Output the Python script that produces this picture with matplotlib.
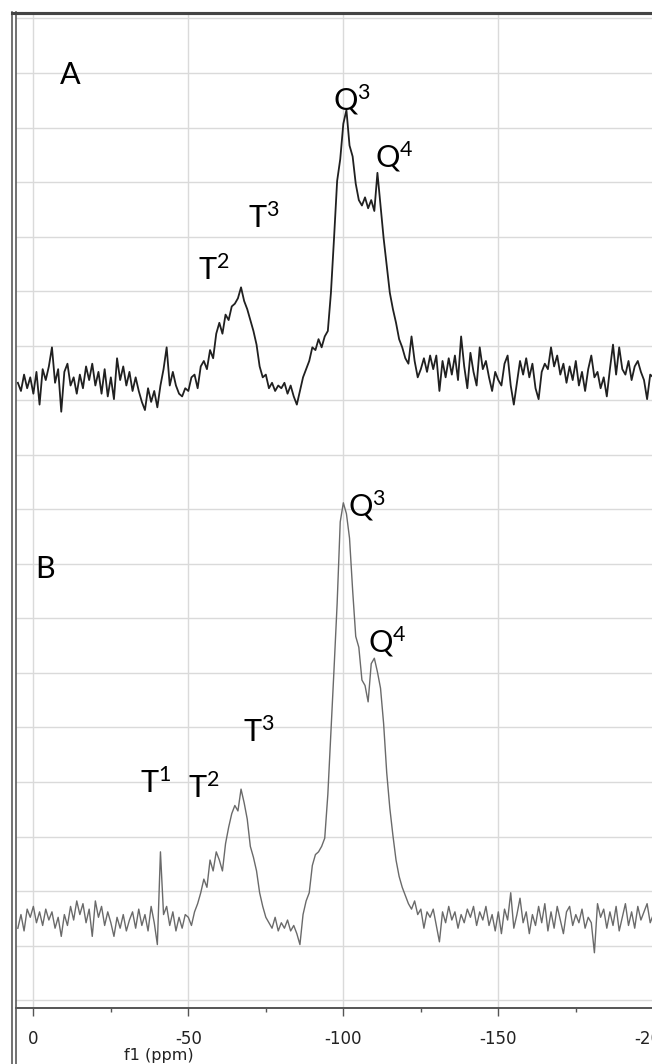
import matplotlib.pyplot as plt
import numpy as np
from matplotlib.lines import Line2D


# chemical shift axis, 1 ppm steps from +5 down to -200
shift_ppm = np.arange(5, -201, -1)

# spectrum A intensity (one grid step = 10), rows of 10 points
spectrum_a = [
    -0.5, -2.0, 1.0, -1.5, 0.5, -2.5, 1.5, -4.5, 2.0, 0.0,
    2.5, 6.0, -0.5, 2.0, -5.8, 1.5, 3.0, -1.0, 0.5, -2.5,
    1.0, -1.5, 2.5, 0.0, 3.0, -1.0, 1.5, -2.5, 2.0, -3.0,
    0.5, -3.5, 4.0, 0.0, 2.5, -1.0, 1.5, -2.0, 0.5, -2.0,
    -4.0, -5.5, -1.5, -4.0, -2.0, -5.0, -1.0, 2.0, 6.0, -1.0,
    1.5, -1.0, -2.5, -3.0, -1.5, -2.0, 0.5, 1.0, -1.5, 2.5,
    3.5, 2.0, 5.5, 4.0, 8.5, 10.5, 8.5, 12.0, 11.0, 13.5,
    14.0, 15.0, 17.0, 14.5, 13.0, 11.0, 9.0, 6.5, 2.5, 0.5,
    1.0, -1.5, -0.5, -2.0, -1.0, -1.5, -0.5, -2.5, -1.0, -3.0,
    -4.5, -2.0, 0.5, 2.0, 3.5, 6.0, 5.5, 7.5, 6.0, 8.0,
    9.0, 16.0, 26.0, 36.5, 40.5, 47.0, 49.5, 43.0, 41.0, 36.0,
    33.0, 32.0, 33.5, 31.5, 33.0, 31.0, 38.0, 32.0, 26.0, 21.0,
    16.0, 13.0, 10.5, 7.5, 6.0, 4.0, 3.0, 8.0, 3.5, 0.5,
    2.0, 4.0, 1.5, 4.5, 2.0, 4.5, -2.0, 3.5, 0.5, 4.0,
    1.0, 4.5, 0.0, 8.0, 2.5, -1.5, 5.0, 1.5, -1.0, 6.0,
    2.0, 3.5, 0.5, -2.0, 1.5, 0.0, -1.0, 3.0, 4.5, -1.0,
    -4.5, -0.5, 3.5, 1.0, 4.0, 0.5, 3.0, -1.5, -3.5, 1.5,
    3.0, 2.0, 6.0, 2.5, 4.5, 1.0, 3.0, -0.5, 2.5, 0.0,
    3.5, -1.0, 1.5, -2.0, 2.0, 4.5, 0.5, 1.5, -1.5, 0.5,
    -3.0, 2.0, 6.5, 1.0, 6.0, 2.0, 1.0, 3.5, 0.0, 2.5,
    3.5, 1.5, 0.0, -3.5, 1.0, 0.5,
]

# spectrum B intensity, same axis
spectrum_b = [
    -1.5, 1.0, -2.0, 2.0, 0.5, 2.5, -0.5, 1.5, -1.0, 2.0,
    0.0, 1.5, -1.5, 0.5, -3.0, 1.0, -1.0, 2.5, 0.0, 3.5,
    1.0, 3.0, -0.5, 2.0, -3.0, 3.5, 0.5, 2.5, -1.0, 1.5,
    -0.5, -3.0, 0.5, -1.5, 1.0, -2.0, 0.0, 1.5, -1.5, 2.0,
    -1.0, 1.0, -2.0, 2.5, -0.5, -4.5, 12.5, 1.0, 2.5, -1.0,
    1.5, -2.0, 0.5, -1.5, 1.0, 0.5, -1.0, 1.5, 3.0, 5.0,
    7.5, 6.0, 11.0, 9.0, 12.5, 11.0, 9.0, 14.0, 17.0, 19.5,
    21.0, 20.0, 24.0, 21.5, 18.5, 13.5, 11.5, 9.0, 5.0, 2.5,
    0.5, -0.5, -1.5, 0.5, -2.0, -0.5, -1.5, 0.0, -2.0, -1.0,
    -2.5, -4.5, 1.0, 3.5, 5.0, 10.0, 12.0, 12.5, 13.5, 15.0,
    23.0, 34.5, 46.0, 58.0, 73.0, 76.5, 74.5, 70.0, 60.5, 52.0,
    50.0, 44.0, 43.0, 40.0, 47.0, 48.0, 45.5, 42.5, 36.0, 27.0,
    20.5, 15.5, 11.0, 8.0, 6.0, 4.5, 3.0, 2.0, 3.5, 1.0,
    2.0, -1.5, 1.5, 0.5, 2.0, -1.0, -4.0, 1.5, -0.5, 2.5,
    0.0, 1.5, -1.5, 1.0, -0.5, 2.0, 0.5, 2.5, -1.0, 1.5,
    0.0, 2.5, -1.0, 1.0, -2.0, 1.5, -2.5, 2.0, 0.0, 5.0,
    -1.5, 1.0, 4.0, -0.5, 1.5, -2.5, 1.0, -1.0, 2.5, -0.5,
    3.0, -2.0, 1.5, -1.5, 2.5, 0.0, -2.5, 1.5, 2.5, -1.0,
    1.0, -0.5, 2.0, -1.5, 0.5, -0.5, -6.0, 3.0, 0.5, 2.0,
    -1.5, 1.5, -1.0, 2.5, -2.0, 0.5, 3.0, -1.0, 1.5, -1.5,
    2.5, 0.0, 1.5, 3.0, -0.5, 1.0,
]

# stacked baselines of the two traces
baseline_a = 113.7
baseline_b = 14.7

# peak labels: (text, ppm, height)
labels_a = [('A', -8.6, 167.9), ('Q$^{3}$', -96.7, 163.2), ('Q$^{4}$', -110.2, 152.6),
            ('T$^{3}$', -69.3, 141.5), ('T$^{2}$', -53.1, 132.0)]
labels_b = [('B', -0.5, 77.4), ('Q$^{3}$', -101.5, 88.6), ('Q$^{4}$', -107.8, 63.7),
            ('T$^{3}$', -67.6, 47.3), ('T$^{1}$', -34.4, 38.0), ('T$^{2}$', -49.9, 37.1)]


def main():
    plot_spectra()


def plot_spectra():
    plt.rcParams['axes.unicode_minus'] = False
    plt.rcParams['mathtext.fontset'] = 'custom'
    plt.rcParams['mathtext.rm'] = 'Lato'
    plt.rcParams['mathtext.it'] = 'Lato:italic'

    W, H = 652, 1064
    fig = plt.figure(figsize=(W / 100, H / 100), dpi=100)
    ax = fig.add_axes([16 / W, (H - 1008) / H, (659.5 - 16) / W, (1008 - 13) / H])

    # spectra
    ax.plot(shift_ppm, baseline_a + np.array(spectrum_a), color='#202020', lw=1.3)
    ax.plot(shift_ppm, baseline_b + np.array(spectrum_b), color='#6a6a6a', lw=1.0)

    for text, x, y in labels_a + labels_b:
        ax.text(x, y, text, family='Lato', fontsize=22, ha='left', va='baseline')

    # axes
    ax.set_xlim(5.6, -202)
    ax.set_ylim(-1.43, 181.0)
    ax.set_xticks([0, -50, -100, -150, -200])
    ax.set_xticks([-25, -75, -125, -175], minor=True)
    ax.set_yticks(np.arange(0, 181, 10))
    ax.tick_params(axis='y', length=0, labelleft=False)
    ax.tick_params(axis='x', which='major', direction='out', length=6, width=1,
                   color='#555555', labelsize=12, pad=10, labelcolor='#222222')
    ax.tick_params(axis='x', which='minor', direction='out', length=3, width=1,
                   color='#555555')
    ax.grid(True, which='major', color='#dadada', lw=1.0)

    ax.set_xlabel('f1 (ppm)', fontsize=11.5, color='#222222')
    ax.xaxis.set_label_coords(0.222, -0.0405)

    for side in ('left', 'right'):
        ax.spines[side].set_visible(False)
    ax.spines['bottom'].set_color('#555555')
    ax.spines['bottom'].set_linewidth(1.4)
    ax.spines['top'].set_color('#444444')
    ax.spines['top'].set_linewidth(2.2)

    # window frame on the left and top
    for px in (11.6, 15.8):
        fig.add_artist(Line2D([px / W, px / W], [0, 1 - 12 / H], color='#5a5a5a', lw=1.2))
    fig.add_artist(Line2D([11.6 / W, 1], [1 - 13 / H, 1 - 13 / H], color='#444444', lw=2.2))

    fig.savefig('out.png', dpi=100)


if __name__ == '__main__':
    main()
